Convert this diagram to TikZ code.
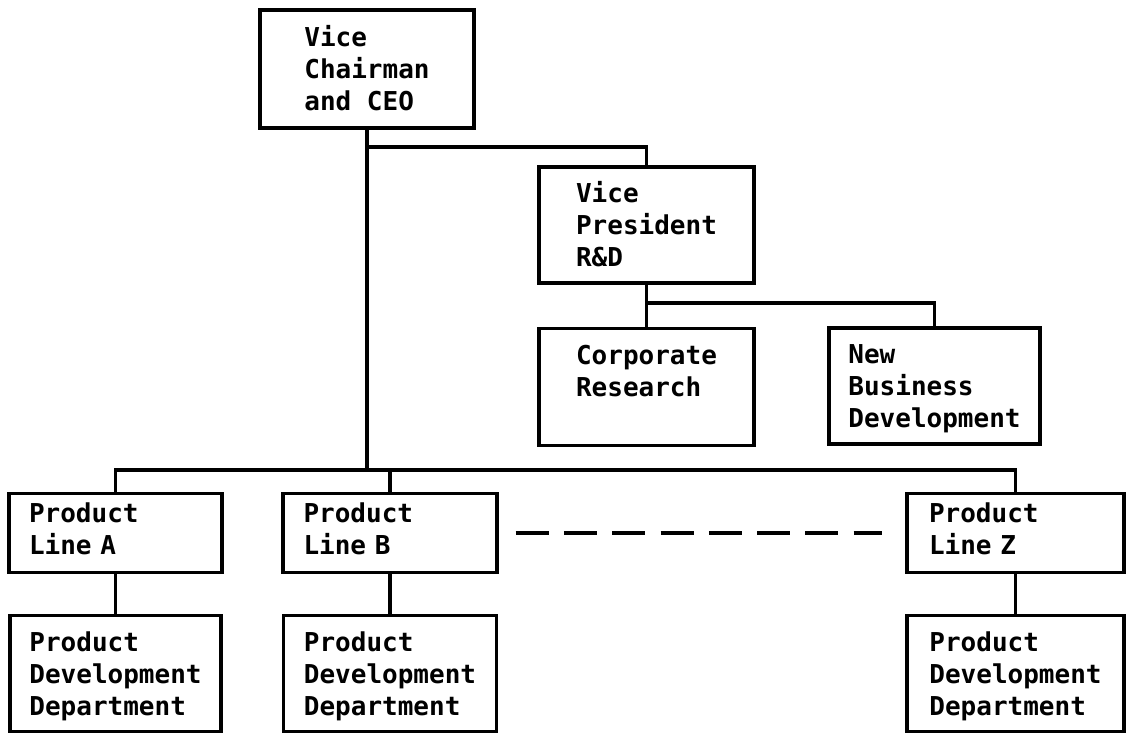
\documentclass[tikz,border=0pt]{standalone}
\usepackage{fontspec}
\setmonofont{DejaVu Sans Mono}
\usepackage{tikz}
\usetikzlibrary{positioning}

\begin{document}
\begin{tikzpicture}[x=1pt, y=-1pt,
    orgbox/.style={draw, line width=3.2pt, inner sep=0pt, align=left,
        font=\ttfamily\bfseries\fontsize{26}{32}\selectfont,
        text height=83pt, text depth=0pt},
    linebox/.style={orgbox, text width=173pt, text height=19pt, text depth=40pt,
        minimum height=79pt},
    deptbox/.style={orgbox, minimum height=116pt},
    link/.style={line width=3.2pt}]
\useasboundingbox (0,0) rectangle (1127,733);

% Head office
\node[orgbox, minimum width=214pt, minimum height=118pt] (ceo) at (367,69) {Vice\\Chairman\\and CEO};
\node[orgbox, minimum width=215pt, minimum height=116pt] (vp) at (646.5,225) {Vice\\President\\R\&D};

% R&D units
\node[orgbox, minimum width=215pt, minimum height=117pt, text height=51pt, text depth=32pt,
    below=42pt of vp] (corp) {Corporate\\Research};
\node[orgbox, minimum width=211pt, minimum height=116pt] (nbd) at (934.5,386) {New\\Business\\Development};

% Product lines
\node[linebox, minimum width=213pt] (plA) at (115.5,533) {Product\\Line A};
\node[linebox, minimum width=214pt] (plB) at (390,533) {Product\\Line B};
\node[linebox, minimum width=217pt] (plZ) at (1015.5,533) {Product\\Line Z};

% Development departments
\node[deptbox, minimum width=211pt, below=40pt of plA] (pdA) {Product\\Development\\Department};
\node[deptbox, minimum width=213pt, below=40pt of plB] (pdB) {Product\\Development\\Department};
\node[deptbox, minimum width=217pt, below=40pt of plZ] (pdZ) {Product\\Development\\Department};

% Connectors
\coordinate (rdjoin) at (ceo.south |- 0,147);
\coordinate (vpjoin) at (vp.south |- 0,303);
\coordinate (bus) at (ceo.south |- 0,470);
\draw[link] (ceo.south) -- (bus);
\draw[link] (rdjoin) -| (vp.north);
\draw[link] (vp.south) -- (corp.north);
\draw[link] (vpjoin) -| (nbd.north);
\draw[link] (plA.north) |- (plZ.north |- bus) -- (plZ.north);
\draw[link] (plB.north) -- (plB.north |- bus);
\draw[link] (plA.south) -- (pdA.north);
\draw[link] (plB.south) -- (pdB.north);
\draw[link] (plZ.south) -- (pdZ.north);

% More product lines in between
\draw[link, dash pattern=on 33pt off 15.3pt, shorten <=17pt, shorten >=23pt] (plB.east) -- (plZ.west);
\end{tikzpicture}
\end{document}
